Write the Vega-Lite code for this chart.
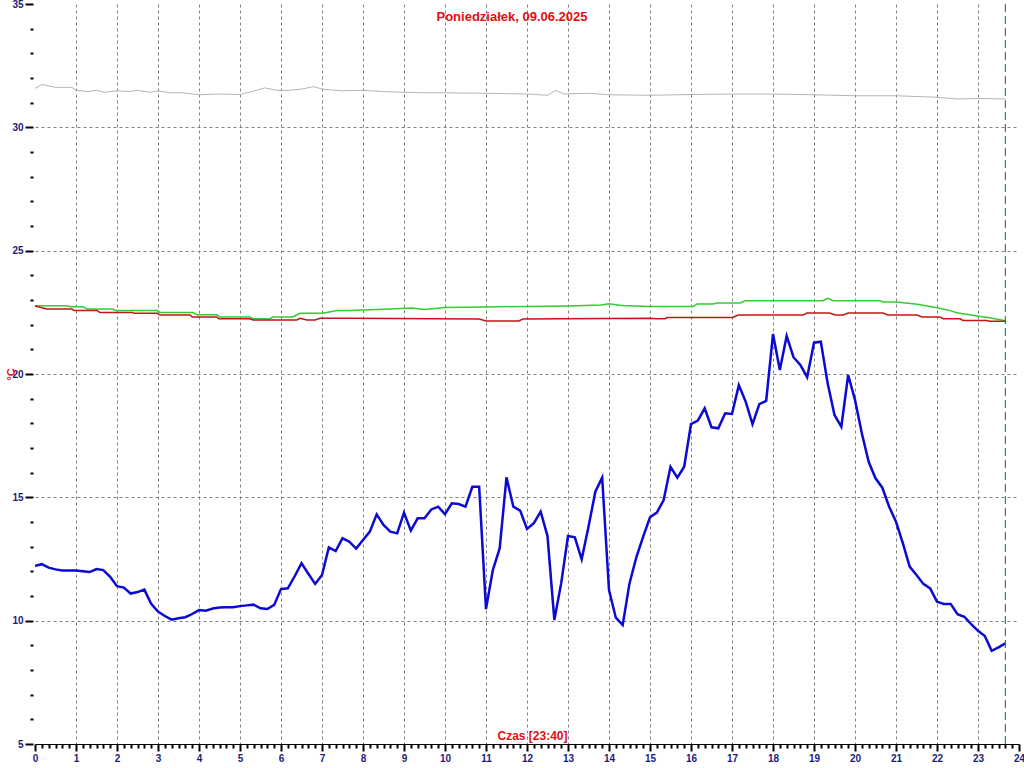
{
  "$schema": "https://vega.github.io/schema/vega-lite/v6.json",
  "width": 984,
  "height": 740,
  "autosize": {"type": "none"},
  "padding": {"left": 35, "top": 4, "right": 5, "bottom": 24},
  "background": "white",
  "title": {"text": "Poniedziałek, 09.06.2025", "color": "#e01010", "font": "Liberation Sans", "fontSize": 13, "fontWeight": "bold", "anchor": "middle", "baseline": "top", "offset": -25, "dx": -15},
  "config": {"view": {"stroke": null}},
  "datasets": {
    "gray": [
      {"t": 0, "v": 31.58}, {"t": 10, "v": 31.74}, {"t": 30, "v": 31.62}, {"t": 54, "v": 31.62}, {"t": 60, "v": 31.5}, {"t": 78, "v": 31.45}, {"t": 90, "v": 31.5}, {"t": 102, "v": 31.42}, {"t": 120, "v": 31.48}, {"t": 138, "v": 31.45}, {"t": 150, "v": 31.5}, {"t": 168, "v": 31.42}, {"t": 180, "v": 31.48}, {"t": 198, "v": 31.4}, {"t": 216, "v": 31.4}, {"t": 240, "v": 31.32}, {"t": 270, "v": 31.35}, {"t": 300, "v": 31.33}, {"t": 318, "v": 31.45}, {"t": 336, "v": 31.6}, {"t": 354, "v": 31.5}, {"t": 372, "v": 31.5}, {"t": 390, "v": 31.55}, {"t": 408, "v": 31.65}, {"t": 420, "v": 31.55}, {"t": 450, "v": 31.48}, {"t": 480, "v": 31.5}, {"t": 510, "v": 31.45}, {"t": 540, "v": 31.42}, {"t": 570, "v": 31.4}, {"t": 600, "v": 31.4}, {"t": 660, "v": 31.38}, {"t": 720, "v": 31.35}, {"t": 750, "v": 31.3}, {"t": 762, "v": 31.5}, {"t": 774, "v": 31.35}, {"t": 810, "v": 31.38}, {"t": 840, "v": 31.32}, {"t": 900, "v": 31.3}, {"t": 960, "v": 31.33}, {"t": 1020, "v": 31.35}, {"t": 1080, "v": 31.35}, {"t": 1140, "v": 31.32}, {"t": 1200, "v": 31.28}, {"t": 1260, "v": 31.28}, {"t": 1320, "v": 31.22}, {"t": 1350, "v": 31.15}, {"t": 1380, "v": 31.17}, {"t": 1420, "v": 31.15}
    ],
    "green": [
      {"t": 0, "v": 22.77}, {"t": 47, "v": 22.77}, {"t": 51, "v": 22.73}, {"t": 70, "v": 22.73}, {"t": 76, "v": 22.64}, {"t": 114, "v": 22.64}, {"t": 117, "v": 22.57}, {"t": 179, "v": 22.57}, {"t": 183, "v": 22.49}, {"t": 231, "v": 22.49}, {"t": 237, "v": 22.4}, {"t": 266, "v": 22.4}, {"t": 271, "v": 22.31}, {"t": 314, "v": 22.31}, {"t": 319, "v": 22.24}, {"t": 344, "v": 22.24}, {"t": 348, "v": 22.31}, {"t": 377, "v": 22.31}, {"t": 388, "v": 22.46}, {"t": 421, "v": 22.46}, {"t": 442, "v": 22.57}, {"t": 461, "v": 22.57}, {"t": 510, "v": 22.62}, {"t": 552, "v": 22.68}, {"t": 570, "v": 22.62}, {"t": 600, "v": 22.7}, {"t": 660, "v": 22.72}, {"t": 720, "v": 22.74}, {"t": 780, "v": 22.76}, {"t": 828, "v": 22.8}, {"t": 840, "v": 22.85}, {"t": 858, "v": 22.78}, {"t": 900, "v": 22.74}, {"t": 963, "v": 22.74}, {"t": 969, "v": 22.84}, {"t": 992, "v": 22.84}, {"t": 998, "v": 22.88}, {"t": 1032, "v": 22.88}, {"t": 1039, "v": 22.97}, {"t": 1153, "v": 22.97}, {"t": 1160, "v": 23.07}, {"t": 1168, "v": 22.97}, {"t": 1237, "v": 22.97}, {"t": 1241, "v": 22.92}, {"t": 1261, "v": 22.92}, {"t": 1291, "v": 22.83}, {"t": 1320, "v": 22.69}, {"t": 1339, "v": 22.57}, {"t": 1349, "v": 22.48}, {"t": 1379, "v": 22.35}, {"t": 1397, "v": 22.28}, {"t": 1420, "v": 22.16}
    ],
    "red": [
      {"t": 0, "v": 22.76}, {"t": 17, "v": 22.64}, {"t": 54, "v": 22.64}, {"t": 57, "v": 22.57}, {"t": 91, "v": 22.57}, {"t": 95, "v": 22.49}, {"t": 143, "v": 22.49}, {"t": 145, "v": 22.46}, {"t": 179, "v": 22.46}, {"t": 183, "v": 22.39}, {"t": 227, "v": 22.39}, {"t": 230, "v": 22.31}, {"t": 266, "v": 22.31}, {"t": 269, "v": 22.24}, {"t": 314, "v": 22.24}, {"t": 319, "v": 22.19}, {"t": 383, "v": 22.19}, {"t": 388, "v": 22.26}, {"t": 398, "v": 22.19}, {"t": 410, "v": 22.19}, {"t": 417, "v": 22.26}, {"t": 461, "v": 22.26}, {"t": 650, "v": 22.23}, {"t": 660, "v": 22.15}, {"t": 708, "v": 22.15}, {"t": 714, "v": 22.23}, {"t": 900, "v": 22.26}, {"t": 910, "v": 22.24}, {"t": 922, "v": 22.24}, {"t": 925, "v": 22.29}, {"t": 1021, "v": 22.29}, {"t": 1029, "v": 22.39}, {"t": 1124, "v": 22.39}, {"t": 1130, "v": 22.47}, {"t": 1163, "v": 22.47}, {"t": 1171, "v": 22.39}, {"t": 1183, "v": 22.39}, {"t": 1190, "v": 22.47}, {"t": 1241, "v": 22.47}, {"t": 1248, "v": 22.39}, {"t": 1291, "v": 22.39}, {"t": 1298, "v": 22.31}, {"t": 1324, "v": 22.31}, {"t": 1329, "v": 22.24}, {"t": 1354, "v": 22.24}, {"t": 1358, "v": 22.17}, {"t": 1393, "v": 22.17}, {"t": 1397, "v": 22.14}, {"t": 1420, "v": 22.14}
    ],
    "blue": [
      {"t": 0, "v": 12.22}, {"t": 10, "v": 12.29}, {"t": 20, "v": 12.15}, {"t": 30, "v": 12.08}, {"t": 40, "v": 12.03}, {"t": 50, "v": 12.03}, {"t": 60, "v": 12.03}, {"t": 70, "v": 12.0}, {"t": 80, "v": 11.97}, {"t": 90, "v": 12.09}, {"t": 100, "v": 12.05}, {"t": 110, "v": 11.78}, {"t": 120, "v": 11.4}, {"t": 130, "v": 11.34}, {"t": 140, "v": 11.1}, {"t": 150, "v": 11.16}, {"t": 160, "v": 11.26}, {"t": 170, "v": 10.68}, {"t": 180, "v": 10.37}, {"t": 190, "v": 10.19}, {"t": 200, "v": 10.04}, {"t": 210, "v": 10.1}, {"t": 220, "v": 10.14}, {"t": 230, "v": 10.27}, {"t": 240, "v": 10.43}, {"t": 250, "v": 10.4}, {"t": 260, "v": 10.49}, {"t": 270, "v": 10.53}, {"t": 280, "v": 10.54}, {"t": 290, "v": 10.54}, {"t": 300, "v": 10.59}, {"t": 310, "v": 10.62}, {"t": 320, "v": 10.65}, {"t": 330, "v": 10.5}, {"t": 340, "v": 10.47}, {"t": 350, "v": 10.64}, {"t": 360, "v": 11.28}, {"t": 370, "v": 11.31}, {"t": 380, "v": 11.8}, {"t": 390, "v": 12.33}, {"t": 400, "v": 11.9}, {"t": 410, "v": 11.49}, {"t": 420, "v": 11.85}, {"t": 430, "v": 12.97}, {"t": 440, "v": 12.82}, {"t": 450, "v": 13.34}, {"t": 460, "v": 13.2}, {"t": 470, "v": 12.92}, {"t": 480, "v": 13.27}, {"t": 490, "v": 13.61}, {"t": 500, "v": 14.31}, {"t": 510, "v": 13.88}, {"t": 520, "v": 13.61}, {"t": 530, "v": 13.54}, {"t": 540, "v": 14.38}, {"t": 550, "v": 13.65}, {"t": 560, "v": 14.15}, {"t": 570, "v": 14.15}, {"t": 580, "v": 14.51}, {"t": 590, "v": 14.62}, {"t": 600, "v": 14.32}, {"t": 610, "v": 14.76}, {"t": 620, "v": 14.73}, {"t": 630, "v": 14.62}, {"t": 640, "v": 15.43}, {"t": 650, "v": 15.43}, {"t": 660, "v": 10.47}, {"t": 670, "v": 12.05}, {"t": 680, "v": 12.93}, {"t": 690, "v": 15.81}, {"t": 700, "v": 14.62}, {"t": 710, "v": 14.46}, {"t": 720, "v": 13.72}, {"t": 730, "v": 13.95}, {"t": 740, "v": 14.42}, {"t": 750, "v": 13.43}, {"t": 760, "v": 10.03}, {"t": 770, "v": 11.51}, {"t": 780, "v": 13.43}, {"t": 790, "v": 13.38}, {"t": 800, "v": 12.49}, {"t": 810, "v": 13.81}, {"t": 820, "v": 15.23}, {"t": 830, "v": 15.8}, {"t": 840, "v": 11.24}, {"t": 850, "v": 10.12}, {"t": 860, "v": 9.82}, {"t": 870, "v": 11.51}, {"t": 880, "v": 12.57}, {"t": 890, "v": 13.41}, {"t": 900, "v": 14.19}, {"t": 910, "v": 14.38}, {"t": 920, "v": 14.89}, {"t": 930, "v": 16.24}, {"t": 940, "v": 15.8}, {"t": 950, "v": 16.24}, {"t": 960, "v": 17.97}, {"t": 970, "v": 18.11}, {"t": 980, "v": 18.61}, {"t": 990, "v": 17.84}, {"t": 1000, "v": 17.8}, {"t": 1010, "v": 18.41}, {"t": 1020, "v": 18.38}, {"t": 1030, "v": 19.55}, {"t": 1040, "v": 18.88}, {"t": 1050, "v": 17.97}, {"t": 1060, "v": 18.78}, {"t": 1070, "v": 18.91}, {"t": 1080, "v": 21.62}, {"t": 1090, "v": 20.16}, {"t": 1100, "v": 21.54}, {"t": 1110, "v": 20.68}, {"t": 1120, "v": 20.37}, {"t": 1130, "v": 19.87}, {"t": 1140, "v": 21.27}, {"t": 1150, "v": 21.31}, {"t": 1160, "v": 19.62}, {"t": 1170, "v": 18.34}, {"t": 1180, "v": 17.86}, {"t": 1190, "v": 19.96}, {"t": 1200, "v": 18.95}, {"t": 1210, "v": 17.6}, {"t": 1220, "v": 16.44}, {"t": 1230, "v": 15.77}, {"t": 1240, "v": 15.39}, {"t": 1250, "v": 14.62}, {"t": 1260, "v": 14.01}, {"t": 1270, "v": 13.14}, {"t": 1280, "v": 12.19}, {"t": 1290, "v": 11.85}, {"t": 1300, "v": 11.49}, {"t": 1310, "v": 11.31}, {"t": 1320, "v": 10.77}, {"t": 1330, "v": 10.68}, {"t": 1340, "v": 10.68}, {"t": 1350, "v": 10.26}, {"t": 1360, "v": 10.16}, {"t": 1370, "v": 9.86}, {"t": 1380, "v": 9.59}, {"t": 1390, "v": 9.38}, {"t": 1400, "v": 8.78}, {"t": 1410, "v": 8.92}, {"t": 1420, "v": 9.08}
    ],
    "now": [{"t": 1420}]
  },
  "encoding": {
    "x": {
      "field": "t", "type": "quantitative",
      "scale": {"domain": [0, 1440], "nice": false, "zero": false},
      "axis": {
        "title": "Czas [23:40]",
        "titleColor": "#e01010", "titleFont": "Liberation Sans", "titleFontSize": 12, "titleFontWeight": "bold",
        "titleBaseline": "bottom", "titleY": -2, "titleX": 497,
        "values": [0,10,20,30,40,50,60,70,80,90,100,110,120,130,140,150,160,170,180,190,200,210,220,230,240,250,260,270,280,290,300,310,320,330,340,350,360,370,380,390,400,410,420,430,440,450,460,470,480,490,500,510,520,530,540,550,560,570,580,590,600,610,620,630,640,650,660,670,680,690,700,710,720,730,740,750,760,770,780,790,800,810,820,830,840,850,860,870,880,890,900,910,920,930,940,950,960,970,980,990,1000,1010,1020,1030,1040,1050,1060,1070,1080,1090,1100,1110,1120,1130,1140,1150,1160,1170,1180,1190,1200,1210,1220,1230,1240,1250,1260,1270,1280,1290,1300,1310,1320,1330,1340,1350,1360,1370,1380,1390,1400,1410,1420,1430,1440],
        "labelExpr": "datum.value % 60 === 0 ? '' + (datum.value / 60) : ''",
        "labelFont": "Liberation Sans", "labelFontSize": 10, "labelFontWeight": "bold", "labelColor": "#1c1c78",
        "labelOverlap": false, "labelFlush": false, "labelPadding": 2,
        "domainColor": "#000000", "domainWidth": 1,
        "tickColor": "#000000", "tickWidth": 2,
        "tickSize": {"condition": {"test": "datum.value % 60 === 0", "value": 7}, "value": 4},
        "grid": true, "gridColor": "#808080", "gridDash": [3, 3], "gridWidth": 1,
        "gridOpacity": {"condition": {"test": "datum.value % 60 === 0 && datum.value > 0 && datum.value < 1440", "value": 1}, "value": 0}
      }
    },
    "y": {
      "field": "v", "type": "quantitative",
      "scale": {"domain": [5, 35], "nice": false, "zero": false},
      "axis": {
        "title": "°C",
        "titleColor": "#e01010", "titleFont": "Liberation Sans", "titleFontSize": 11, "titleFontWeight": "bold",
        "titleAngle": -90, "titleX": -22, "titleY": 370, "titleAlign": "center", "titleBaseline": "middle",
        "offset": 2,
        "values": [5,6,7,8,9,10,11,12,13,14,15,16,17,18,19,20,21,22,23,24,25,26,27,28,29,30,31,32,33,34,35],
        "labelExpr": "datum.value % 5 === 0 ? datum.label : ''",
        "labelFont": "Liberation Sans", "labelFontSize": 10, "labelFontWeight": "bold", "labelColor": "#1c1c78",
        "labelOverlap": false, "labelFlush": false, "labelPadding": 2,
        "domain": false,
        "tickColor": "#000000", "tickWidth": 2,
        "tickSize": {"condition": {"test": "datum.value % 5 === 0", "value": 8}, "value": 3},
        "grid": true, "gridColor": "#808080", "gridDash": [3, 3], "gridWidth": 1,
        "gridOpacity": {"condition": {"test": "datum.value % 5 === 0 && datum.value > 5 && datum.value < 35", "value": 1}, "value": 0}
      }
    }
  },
  "layer": [
    {"data": {"name": "gray"}, "mark": {"type": "line", "color": "#b4b4b4", "strokeWidth": 1}},
    {"data": {"name": "green"}, "mark": {"type": "line", "color": "#33cc33", "strokeWidth": 1.5}},
    {"data": {"name": "red"}, "mark": {"type": "line", "color": "#c81414", "strokeWidth": 1.5}},
    {"data": {"name": "blue"}, "mark": {"type": "line", "color": "#0a0ad2", "strokeWidth": 2.5}},
    {"data": {"name": "now"}, "mark": {"type": "rule", "color": "#008000", "strokeWidth": 1, "strokeDash": [8, 4]}, "encoding": {"x": {"field": "t", "type": "quantitative"}, "y": {"value": 0}, "y2": {"value": 740}}}
  ]
}
